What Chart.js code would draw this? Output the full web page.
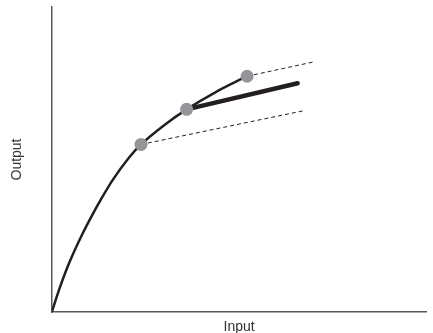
<!DOCTYPE html>
<html>
<head>
    <meta charset="UTF-8">
    <title>Output vs Input</title>
    <script src="https://cdn.jsdelivr.net/npm/chart.js"></script>
    <style>
        html, body { margin: 0; padding: 0; background: #fff; }
        #wrap { width: 433px; height: 333px; }
    </style>
</head>
<body>
    <div id="wrap"><canvas id="chart" width="433" height="333"></canvas></div>
    <script>
        // curve (input, output)
        var curveX = [0, 8, 18, 31, 41, 50, 61, 78, 90, 113, 136, 165, 197];
        var curveY = [0, 24, 50, 78, 97, 113, 131, 154, 167, 186, 202, 219, 235];

        // grey marker points on the curve
        var dotX = [90, 136, 197];
        var dotY = [167, 202, 235];

        // thick line from the middle point
        var thickX = [136, 248];
        var thickY = [202, 228];

        // dashed lines
        var upperDashX = [197, 263];
        var upperDashY = [235, 249];
        var lowerDashX = [90, 256];
        var lowerDashY = [167, 201];

        function toPoints(xs, ys) {
            return xs.map(function (x, i) { return { x: x, y: ys[i] }; });
        }

        var ink = '#231f20';

        new Chart(document.getElementById('chart'), {
            type: 'scatter',
            data: {
                datasets: [
                    {
                        data: toPoints(dotX, dotY),
                        pointRadius: 6.5,
                        pointBackgroundColor: '#939598',
                        pointBorderWidth: 0,
                        showLine: false
                    },
                    {
                        data: toPoints(curveX, curveY),
                        showLine: true,
                        borderColor: ink,
                        borderWidth: 2.5,
                        pointRadius: 0,
                        cubicInterpolationMode: 'monotone'
                    },
                    {
                        data: toPoints(thickX, thickY),
                        showLine: true,
                        borderColor: ink,
                        borderWidth: 4.5,
                        borderCapStyle: 'round',
                        pointRadius: 0
                    },
                    {
                        data: toPoints(upperDashX, upperDashY),
                        showLine: true,
                        borderColor: ink,
                        borderWidth: 1,
                        borderDash: [4, 3],
                        pointRadius: 0
                    },
                    {
                        data: toPoints(lowerDashX, lowerDashY),
                        showLine: true,
                        borderColor: ink,
                        borderWidth: 1,
                        borderDash: [4, 3],
                        pointRadius: 0
                    }
                ]
            },
            options: {
                responsive: false,
                animation: false,
                layout: { padding: { top: 7, right: 3, left: 9, bottom: 0 } },
                plugins: { legend: { display: false }, tooltip: { enabled: false } },
                scales: {
                    x: {
                        type: 'linear',
                        min: 0,
                        max: 378,
                        grid: { display: false },
                        border: { display: true, color: '#58595b', width: 1.5 },
                        ticks: { display: false },
                        title: {
                            display: true,
                            text: 'Input',
                            color: '#333',
                            font: { family: 'Liberation Sans', size: 14, lineHeight: 1 },
                            padding: { top: 0, bottom: -1 }
                        }
                    },
                    y: {
                        type: 'linear',
                        min: 0,
                        max: 304,
                        grid: { display: false },
                        border: { display: true, color: '#58595b', width: 1.5 },
                        ticks: { display: false },
                        title: {
                            display: true,
                            text: 'Output',
                            color: '#333',
                            font: { family: 'Liberation Sans', size: 14 },
                            padding: { top: 0, bottom: 18 }
                        }
                    }
                }
            }
        });
    </script>
</body>
</html>
